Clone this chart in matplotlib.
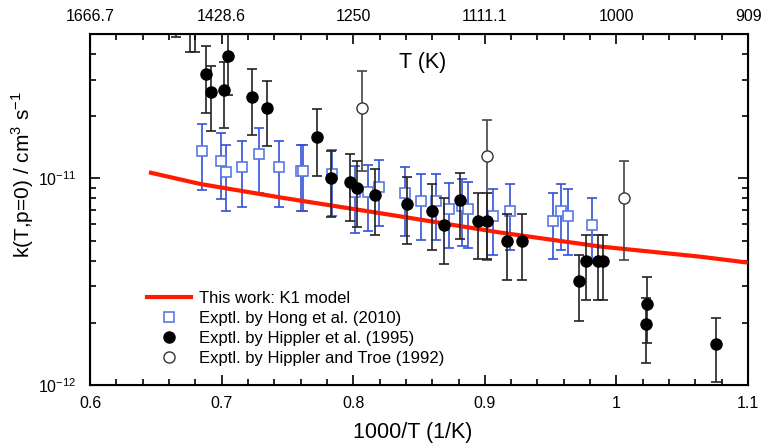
import numpy as np
import matplotlib
matplotlib.use("Agg")
import matplotlib.pyplot as plt
from matplotlib.lines import Line2D
from matplotlib.ticker import FixedLocator, MultipleLocator, LogLocator, NullFormatter

plt.rcParams["font.family"] = ["Liberation Sans", "DejaVu Sans"]
plt.rcParams["mathtext.fontset"] = "custom"
plt.rcParams["mathtext.rm"] = "Liberation Sans"

# This work: K1 model
model_x = [0.6448, 0.6836, 0.7444, 0.8356, 0.9116, 0.9875, 1.0635, 1.1]
model_k = [1.07e-11, 9.40e-12, 8.09e-12, 6.55e-12, 5.47e-12, 4.68e-12, 4.18e-12, 3.91e-12]

# Hong et al. (2010)
hong_x = [0.6849, 0.6995, 0.7031, 0.7157, 0.7284, 0.7436, 0.7600, 0.7622, 0.7841, 0.8014,
          0.8115, 0.8198, 0.8394, 0.8513, 0.8629, 0.8728, 0.8823, 0.8875, 0.9062, 0.9191,
          0.9516, 0.9577, 0.9634, 0.9812]
hong_k = [1.36e-11, 1.22e-11, 1.07e-11, 1.13e-11, 1.31e-11, 1.13e-11, 1.08e-11, 1.08e-11, 1.05e-11, 8.55e-12,
          8.58e-12, 9.07e-12, 8.50e-12, 7.76e-12, 7.76e-12, 7.10e-12, 7.35e-12, 7.07e-12, 6.59e-12, 6.99e-12,
          6.25e-12, 6.94e-12, 6.61e-12, 5.93e-12]
hong_lo = [8.78e-12, 7.91e-12, 6.94e-12, 7.29e-12, 8.46e-12, 7.29e-12, 6.99e-12, 6.99e-12, 6.61e-12, 5.45e-12,
           5.55e-12, 5.91e-12, 5.29e-12, 5.06e-12, 5.06e-12, 4.61e-12, 4.69e-12, 4.61e-12, 4.28e-12, 4.52e-12,
           4.08e-12, 4.52e-12, 4.28e-12, 3.90e-12]
hong_hi = [1.83e-11, 1.65e-11, 1.45e-11, 1.52e-11, 1.76e-11, 1.52e-11, 1.45e-11, 1.45e-11, 1.37e-11, 1.15e-11,
           1.16e-11, 1.23e-11, 1.14e-11, 1.05e-11, 1.05e-11, 9.53e-12, 9.89e-12, 9.60e-12, 8.91e-12, 9.35e-12,
           8.46e-12, 9.35e-12, 8.84e-12, 8.00e-12]

# Hippler et al. (1995)
hip_x = [0.6653, 0.6760, 0.6798, 0.6879, 0.6917, 0.7018, 0.7049, 0.7233, 0.7347, 0.7725,
         0.7829, 0.7976, 0.8031, 0.8166, 0.8411, 0.8601, 0.8688, 0.8812, 0.8951, 0.9019,
         0.9171, 0.9285, 0.9716, 0.9767, 0.9862, 0.9896, 1.0235, 1.0227, 1.0755]
hip_k = [7.0e-11, 6.5e-11, 6.3e-11, 3.20e-11, 2.61e-11, 2.68e-11, 3.92e-11, 2.49e-11, 2.19e-11, 1.59e-11,
         1.00e-11, 9.64e-12, 8.94e-12, 8.27e-12, 7.48e-12, 6.94e-12, 5.93e-12, 7.85e-12, 6.25e-12, 6.25e-12,
         4.96e-12, 4.96e-12, 3.17e-12, 3.97e-12, 3.97e-12, 3.97e-12, 2.46e-12, 1.97e-12, 1.58e-12]
hip_lo = [4.84e-11, 4.10e-11, 4.10e-11, 2.08e-11, 1.69e-11, 1.75e-11, 2.54e-11, 1.62e-11, 1.43e-11, 1.03e-11,
          6.49e-12, 6.25e-12, 5.80e-12, 5.35e-12, 4.84e-12, 4.52e-12, 3.87e-12, 5.10e-12, 4.08e-12, 4.08e-12,
          3.23e-12, 3.23e-12, 2.05e-12, 2.57e-12, 2.57e-12, 2.57e-12, 1.60e-12, 1.28e-12, 1.03e-12]
hip_hi = [1.0e-10, 1.0e-10, 1.0e-10, 4.36e-11, 3.51e-11, 3.65e-11, 5.6e-11, 3.37e-11, 2.96e-11, 2.16e-11,
          1.36e-11, 1.31e-11, 1.21e-11, 1.11e-11, 1.01e-11, 9.35e-12, 8.06e-12, 1.06e-11, 8.46e-12, 8.46e-12,
          6.69e-12, 6.69e-12, 4.28e-12, 5.35e-12, 5.35e-12, 5.35e-12, 3.33e-12, 2.65e-12, 2.12e-12]

# Hippler and Troe (1992)
troe_x = [0.8069, 0.9019, 1.0060]
troe_k = [2.20e-11, 1.28e-11, 8.06e-12]
troe_lo = [1.09e-11, 4.04e-12, 4.04e-12]
troe_hi = [3.32e-11, 1.92e-11, 1.21e-11]

bottom_ticks = [0.6, 0.7, 0.8, 0.9, 1.0, 1.1]
bottom_labels = ["0.6", "0.7", "0.8", "0.9", "1", "1.1"]
top_labels = ["1666.7", "1428.6", "1250", "1111.1", "1000", "909"]


def yerr(k, lo, hi):
    k, lo, hi = np.array(k), np.array(lo), np.array(hi)
    return [k - lo, hi - k]


fig = plt.figure(figsize=(7.61, 4.46), dpi=100)
ax = fig.add_axes([0.1183, 0.1368, 0.8647, 0.787])

blue_bar = "#3552d6"
blue_sq = "#5a78e6"

ax.errorbar(hong_x, hong_k, yerr=yerr(hong_k, hong_lo, hong_hi), fmt="none",
            ecolor=blue_bar, elinewidth=1.2, capsize=3.6, capthick=1.2, zorder=2)
ax.plot(hong_x, hong_k, "s", ms=7, mfc="white", mec=blue_sq, mew=1.2, zorder=2.5)

ax.plot(model_x, model_k, color="#ff1a00", lw=3, zorder=3,
        solid_capstyle="butt")

ax.errorbar(troe_x, troe_k, yerr=yerr(troe_k, troe_lo, troe_hi), fmt="none",
            ecolor="#444444", elinewidth=1.2, capsize=3.6, capthick=1.2, zorder=3.5)
ax.plot(troe_x, troe_k, "o", ms=8, mfc="white", mec="#333333", mew=1.0, zorder=4)

ax.errorbar(hip_x, hip_k, yerr=yerr(hip_k, hip_lo, hip_hi), fmt="none",
            ecolor="#222222", elinewidth=1.2, capsize=3.6, capthick=1.2, zorder=3.5)
ax.plot(hip_x, hip_k, "o", ms=8, color="black", zorder=4)

ax.set_yscale("log")
ax.set_xlim(0.6, 1.1)
ax.set_ylim(1e-12, 5e-11)

ax.xaxis.set_major_locator(FixedLocator(bottom_ticks))
ax.set_xticklabels(bottom_labels)
ax.xaxis.set_minor_locator(MultipleLocator(0.02))
ax.yaxis.set_major_locator(LogLocator(base=10))
ax.yaxis.set_minor_locator(LogLocator(base=10, subs=np.arange(2, 10)))
ax.yaxis.set_minor_formatter(NullFormatter())

ax.tick_params(which="both", direction="in", right=True, width=1.2)
ax.tick_params(which="major", length=7)
ax.tick_params(which="minor", length=4)
ax.tick_params(axis="x", labelsize=11.5, pad=8)
ax.tick_params(axis="y", labelsize=11.5, pad=10)
for s in ax.spines.values():
    s.set_linewidth(1.5)

top = ax.twiny()
top.set_xlim(ax.get_xlim())
top.xaxis.set_major_locator(FixedLocator(bottom_ticks))
top.set_xticklabels(top_labels)
top.xaxis.set_minor_locator(MultipleLocator(0.02))
top.tick_params(which="both", direction="in", width=1.2, labelsize=11.5, pad=7)
top.tick_params(which="major", length=7)
top.tick_params(which="minor", length=4)

ax.text(0.505, 0.92, "T (K)", transform=ax.transAxes, fontsize=15.5,
        ha="center", va="center")

ax.set_xlabel("1000/T (1/K)", fontsize=15.5)
ax.xaxis.set_label_coords(0.491, -0.105)
ax.set_ylabel("k(T,p=0) / cm$^3$ s$^{-1}$", fontsize=15)
ax.yaxis.set_label_coords(-0.082, 0.60)

handles = [
    Line2D([], [], color="#ff1a00", lw=3),
    Line2D([], [], ls="none", marker="s", ms=7, mfc="white", mec=blue_sq, mew=1.2),
    Line2D([], [], ls="none", marker="o", ms=8, color="black"),
    Line2D([], [], ls="none", marker="o", ms=8, mfc="white", mec="#333333", mew=1.0),
]
labels = ["This work: K1 model", "Exptl. by Hong et al. (2010)",
          "Exptl. by Hippler et al. (1995)", "Exptl. by Hippler and Troe (1992)"]
ax.legend(handles, labels, loc="upper left", bbox_to_anchor=(0.087, 0.268),
          frameon=False, fontsize=12, handlelength=2.6, handletextpad=0.5,
          labelspacing=0.3, borderpad=0, borderaxespad=0)

fig.savefig("out.png", dpi=100)
